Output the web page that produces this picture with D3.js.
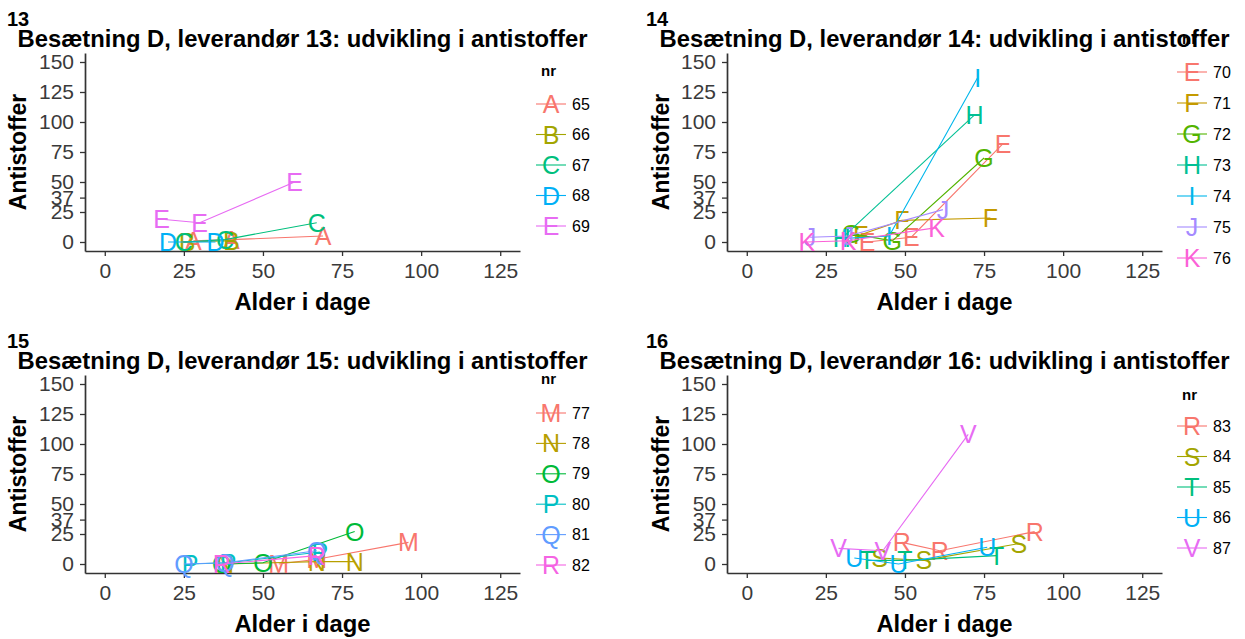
<!DOCTYPE html>
<html>
<head>
<meta charset="utf-8">
<script src="https://cdn.jsdelivr.net/npm/d3@7"></script>
<style>
  html, body { margin: 0; padding: 0; background: #fff; }
  svg { display: block; font-family: "Liberation Sans", Arial, sans-serif; }
</style>
</head>
<body>
<svg id="chart" width="1245" height="639"></svg>
<script>
// ---------- data ----------
const xTicks = [0, 25, 50, 75, 100, 125];
const yTicks = [0, 25, 37, 50, 75, 100, 125, 150];
const xLabel = "Alder i dage";
const yLabel = "Antistoffer";

// leverandør 13
const ids13 = ["65", "66", "67", "68", "69"];
const letters13 = ["A", "B", "C", "D", "E"];
const age13 = [[28, 40, 69], [26, 40], [25, 38, 67], [20, 35], [18, 30, 60]];
const ab13  = [[1, 2, 5],    [0, 1],   [0, 2, 16],   [0, 0],   [19, 16, 50]];

// leverandør 14
const ids14 = ["70", "71", "72", "73", "74", "75", "76"];
const letters14 = ["E", "F", "G", "H", "I", "J", "K"];
const age14 = [[38, 52, 81], [36, 49, 77], [33, 46, 75], [30, 72], [31, 45, 73], [20, 32, 62], [19, 32, 60]];
const ab14  = [[0, 4, 82],   [6, 18, 20],  [7, 1, 70],   [3, 106], [3, 5, 137],  [4, 5, 27],   [0, 1, 12]];

// leverandør 15
const ids15 = ["77", "78", "79", "80", "81", "82"];
const letters15 = ["M", "N", "O", "P", "Q", "R"];
const age15 = [[55, 67, 96], [38, 67, 79], [37, 50, 79], [27, 39, 68], [25, 38, 67], [37, 67]];
const ab15  = [[0, 4, 18],   [0, 2, 2],    [0, 1, 27],   [0, 1, 10],   [0, 1, 11],   [0, 7]];

// leverandør 16
const ids16 = ["83", "84", "85", "86", "87"];
const letters16 = ["R", "S", "T", "U", "V"];
const age16 = [[49, 61, 91], [42, 56, 86], [38, 50, 79], [34, 48, 76], [29, 43, 70]];
const ab16  = [[18, 11, 27], [5, 3, 17],   [3, 3, 7],    [5, 0, 14],   [13, 11, 108]];

const palette5 = ["#F8766D", "#A3A500", "#00BF7D", "#00B0F6", "#E76BF3"];
const palette6 = ["#F8766D", "#B79F00", "#00BA38", "#00BFC4", "#619CFF", "#F564E3"];
const palette7 = ["#F8766D", "#C49A00", "#53B400", "#00C094", "#00B6EB", "#A58AFF", "#FB61D7"];

// ---------- layout ----------
const panels = [
  { tag: "13", ids: ids13, letters: letters13, age: age13, ab: ab13, colors: palette5,
    x0: 85, x1: 520, y0: 251, y1: 53, tagX: 7, tagY: 26, titleY: 47, xtitleY: 310, ytitleX: 26,
    legX: 551, legTitleY: 76, legY: 104, legStep: 30.5 },
  { tag: "14", ids: ids14, letters: letters14, age: age14, ab: ab14, colors: palette7,
    x0: 727, x1: 1162, y0: 251, y1: 53, tagX: 646, tagY: 26, titleY: 47, xtitleY: 310, ytitleX: 669,
    legX: 1192, legTitleY: 44, legY: 72, legStep: 31 },
  { tag: "15", ids: ids15, letters: letters15, age: age15, ab: ab15, colors: palette6,
    x0: 85, x1: 520, y0: 573, y1: 375, tagX: 7, tagY: 348, titleY: 369, xtitleY: 632, ytitleX: 26,
    legX: 551, legTitleY: 384, legY: 413, legStep: 30.4 },
  { tag: "16", ids: ids16, letters: letters16, age: age16, ab: ab16, colors: palette5,
    x0: 727, x1: 1162, y0: 573, y1: 375, tagX: 646, tagY: 348, titleY: 369, xtitleY: 632, ytitleX: 669,
    legX: 1192, legTitleY: 400, legY: 426, legStep: 30.5 }
];

const svg = d3.select("#chart");
const axisCol = "#333333";
const tickTextCol = "#3a3a3a";

panels.forEach(p => {
  const g = svg.append("g");
  const x = d3.scaleLinear().domain([-6.25, 131.25]).range([p.x0, p.x1]);
  const y = d3.scaleLinear().domain([-7.5, 157.5]).range([p.y0, p.y1]);

  // axes
  const xAxis = d3.axisBottom(x).tickValues(xTicks).tickSize(5).tickPadding(7).tickSizeOuter(0);
  const yAxis = d3.axisLeft(y).tickValues(yTicks).tickSize(5).tickPadding(6).tickSizeOuter(0);
  const gx = g.append("g").attr("transform", `translate(0,${p.y0})`).call(xAxis);
  const gy = g.append("g").attr("transform", `translate(${p.x0},0)`).call(yAxis);
  [gx, gy].forEach(a => {
    a.select(".domain").attr("stroke", axisCol).attr("stroke-width", 1.7);
    a.selectAll(".tick line").attr("stroke", axisCol).attr("stroke-width", 1.3);
    a.selectAll(".tick text").attr("fill", tickTextCol)
      .style("font-size", "21px").style("font-family", "'Liberation Sans', Arial, sans-serif");
  });

  // lines + letters
  p.ids.forEach((id, i) => {
    const pts = p.age[i].map((a, j) => [a, p.ab[i][j]]);
    g.append("path")
      .attr("d", d3.line().x(d => x(d[0])).y(d => y(d[1]))(pts))
      .attr("fill", "none").attr("stroke", p.colors[i]).attr("stroke-width", 1.1);
    g.selectAll(null).data(pts).enter().append("text")
      .attr("x", d => x(d[0])).attr("y", d => y(d[1]))
      .attr("text-anchor", "middle").attr("dominant-baseline", "central")
      .attr("fill", p.colors[i]).style("font-size", "25px")
      .text(p.letters[i]);
  });

  // tag
  g.append("text").attr("x", p.tagX).attr("y", p.tagY)
    .style("font-size", "20px").style("font-weight", "bold").attr("fill", "#000").text(p.tag);
  // title
  g.append("text").attr("x", (p.x0 + p.x1) / 2).attr("y", p.titleY)
    .attr("text-anchor", "middle").style("font-size", "23.8px").style("font-weight", "bold")
    .attr("fill", "#000")
    .text(`Besætning D, leverandør ${p.tag}: udvikling i antistoffer`);
  // axis titles
  g.append("text").attr("x", (p.x0 + p.x1) / 2).attr("y", p.xtitleY)
    .attr("text-anchor", "middle").style("font-size", "23.8px").style("font-weight", "bold")
    .attr("fill", "#000").text(xLabel);
  g.append("text")
    .attr("transform", `translate(${p.ytitleX},${(p.y0 + p.y1) / 2}) rotate(-90)`)
    .attr("text-anchor", "middle").style("font-size", "23px").style("font-weight", "bold")
    .attr("fill", "#000").text(yLabel);

  // legend
  g.append("text").attr("x", p.legX - 10).attr("y", p.legTitleY)
    .style("font-size", "15px").style("font-weight", "bold").attr("fill", "#000").text("nr");
  p.ids.forEach((id, i) => {
    const ly = p.legY + i * p.legStep;
    g.append("line").attr("x1", p.legX - 15).attr("x2", p.legX + 15)
      .attr("y1", ly).attr("y2", ly).attr("stroke", p.colors[i]).attr("stroke-width", 1.1);
    g.append("text").attr("x", p.legX).attr("y", ly)
      .attr("text-anchor", "middle").attr("dominant-baseline", "central")
      .attr("fill", p.colors[i]).style("font-size", "25px").text(p.letters[i]);
    g.append("text").attr("x", p.legX + 21).attr("y", ly)
      .attr("dominant-baseline", "central")
      .attr("fill", "#000").style("font-size", "16px").text(id);
  });
});
</script>
</body>
</html>
